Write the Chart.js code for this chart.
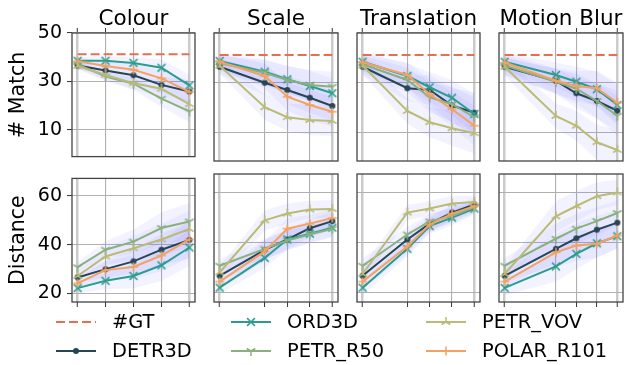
<!DOCTYPE html>
<html>
<head>
<meta charset="utf-8">
<script src="https://cdn.jsdelivr.net/npm/chart.js@4.4.1/dist/chart.umd.min.js"></script>
<style>
    body { margin: 0; width: 626px; height: 365px; position: relative; overflow: hidden; background: #fff; font-family: "DejaVu Sans", sans-serif; }
    canvas.panel { position: absolute; }
    .title { position: absolute; top: 6px; height: 24px; line-height: 24px; font-size: 21.5px; text-align: center; color: #000; white-space: nowrap; }
    .item { position: absolute; height: 24px; line-height: 24px; font-size: 19.4px; color: #000; white-space: nowrap; }
    .item canvas { position: absolute; left: 0; top: 2px; }
    .item span { position: absolute; left: 57px; top: 0; }
</style>
</head>
<body>
<script>
    'use strict';

    // ---- data ----
    const seriesNames = ['DETR3D', 'ORD3D', 'PETR_R50', 'PETR_VOV', 'POLAR_R101'];
    const gtName = '#GT';
    const gtCount = 41.2;

    const panelTitles = ['Colour', 'Scale', 'Translation', 'Motion Blur'];
    const colourLevels = [0, 1, 2, 3, 4];
    const scaleLevels = [0, 2, 3, 4, 5];
    const translationLevels = [0, 2, 3, 4, 5];
    const blurLevels = [0, 5, 7, 9, 11];

    const matchTicks = [10, 30, 50];
    const distTicks = [20, 40, 60];

    // rows follow seriesNames order
    const colourMatch = [
        [36.5, 34.5, 32.5, 28.5, 25.8],
        [38.5, 38.5, 37.6, 35.6, 28.3],
        [37.0, 32.0, 29.0, 22.8, 17.5],
        [36.3, 32.6, 29.2, 26.9, 20.5],
        [38.3, 36.3, 34.8, 31.2, 25.6]
    ];
    const scaleMatch = [
        [36.5, 30.1, 27.2, 24.1, 20.8],
        [38.8, 34.5, 31.5, 28.8, 25.9],
        [37.9, 34.1, 31.2, 29.2, 28.5],
        [36.9, 20.3, 16.3, 15.2, 14.8],
        [38.5, 32.8, 24.5, 21.2, 18.5]
    ];
    const translationMatch = [
        [36.5, 27.9, 27.2, 21.0, 18.1],
        [38.5, 32.8, 28.3, 24.1, 17.6],
        [37.5, 31.2, 24.3, 21.5, 16.3],
        [37.0, 18.8, 14.3, 11.9, 9.9],
        [38.3, 33.2, 25.5, 19.5, 12.9]
    ];
    const blurMatch = [
        [36.5, 30.8, 25.9, 22.8, 18.9],
        [38.5, 33.2, 30.5, 27.5, 21.2],
        [37.0, 30.5, 27.7, 22.8, 16.9],
        [36.5, 16.8, 12.9, 6.3, 3.2],
        [38.2, 30.9, 28.8, 27.9, 22.1]
    ];

    const colourDist = [
        [26.5, 29.9, 33.1, 37.9, 41.9],
        [22.1, 25.1, 27.1, 31.5, 38.8],
        [30.7, 37.9, 41.2, 46.8, 49.5],
        [27.1, 35.1, 38.5, 42.1, 46.4],
        [24.1, 29.5, 30.8, 35.5, 42.1]
    ];
    const scaleDist = [
        [26.8, 37.1, 41.2, 45.7, 48.5],
        [22.1, 33.9, 41.2, 43.5, 45.9],
        [30.8, 37.5, 40.8, 43.2, 45.5],
        [28.1, 48.8, 51.5, 53.1, 53.3],
        [24.5, 36.5, 45.5, 47.5, 49.7]
    ];
    const translationDist = [
        [26.8, 41.2, 47.5, 51.9, 55.1],
        [22.1, 37.5, 46.5, 49.9, 53.5],
        [30.8, 43.2, 48.4, 50.5, 54.1],
        [27.5, 51.9, 53.5, 55.5, 56.1],
        [24.5, 38.4, 47.1, 51.5, 54.4]
    ];
    const blurDist = [
        [26.8, 37.5, 41.7, 45.1, 47.9],
        [22.0, 30.5, 35.5, 39.7, 42.5],
        [30.8, 41.5, 45.5, 48.5, 51.7],
        [27.5, 50.4, 54.5, 58.4, 59.9],
        [24.5, 36.1, 38.8, 39.5, 42.8]
    ];

    // spread (half width of the shaded band) at each level
    const colourMatchSpread = [1.5, 2, 2.5, 3.5, 4.5];
    const scaleMatchSpread = [3, 5, 5.5, 6, 6];
    const translationMatchSpread = [3.5, 5, 6, 7, 8];
    const blurMatchSpread = [3.5, 5, 6, 7, 8];
    const colourDistSpread = [2, 3.5, 5, 6.5, 7.5];
    const scaleDistSpread = [2.5, 4, 4, 3.5, 3.5];
    const translationDistSpread = [3, 3, 3, 3, 2.5];
    const blurDistSpread = [3, 6, 6, 5.5, 5];

    // ---- styles ----
    const FONT = '"DejaVu Sans", sans-serif';
    const GRID = '#b0b0b0';
    const GRID_EDGE = '#cbcbcb';
    const BAND = 'rgba(100, 100, 255, 0.08)';
    const gtColor = '#e76f51';
    const seriesStyles = [
        { color: '#264653', marker: 'circle' },
        { color: '#2a9d8f', marker: 'x' },
        { color: '#8ab17d', marker: 'triDown' },
        { color: '#babb74', marker: 'triUp' },
        { color: '#f4a261', marker: 'plus' }
    ];

    const panelLefts = [72, 214, 357, 499];
    const panelWidths = [123, 124, 123, 124];
    const rowTops = [33, 174];
    const panelHeight = 128;

    /**
     * Build a small canvas used as a point style
     */
    function makeMarker(kind, color) {
        const c = document.createElement('canvas');
        c.width = 12;
        c.height = 12;
        const g = c.getContext('2d');
        const cx = 6, cy = 6;
        g.strokeStyle = color;
        g.fillStyle = color;
        g.lineWidth = 1.5;
        g.beginPath();
        if (kind === 'circle') {
            g.arc(cx, cy, 3, 0, Math.PI * 2);
            g.fill();
            return c;
        }
        let angles = [];
        let r = 5;
        if (kind === 'x') { angles = [45, 135, 225, 315]; r = 5.5; }
        if (kind === 'plus') { angles = [0, 90, 180, 270]; r = 4.5; }
        if (kind === 'triUp') angles = [-90, 30, 150];
        if (kind === 'triDown') angles = [90, 210, 330];
        angles.forEach(function(a) {
            const t = a * Math.PI / 180;
            g.moveTo(cx, cy);
            g.lineTo(cx + r * Math.cos(t), cy + r * Math.sin(t));
        });
        g.stroke();
        return c;
    }

    const markers = seriesStyles.map(function(s) { return makeMarker(s.marker, s.color); });

    const framePlugin = {
        id: 'frame',
        afterDraw(chart) {
            const a = chart.chartArea;
            const ctx = chart.ctx;
            ctx.save();
            ctx.strokeStyle = '#444';
            ctx.lineWidth = 1.3;
            ctx.strokeRect(a.left, a.top, a.right - a.left, a.bottom - a.top);
            ctx.restore();
        }
    };

    function points(levels, values) {
        return levels.map(function(x, i) { return { x: x, y: values[i] }; });
    }

    /**
     * Draw one small panel
     */
    function drawPanel(row, col, levels, values, spread) {
        const pad = 4;
        const yw = col === 0 ? 72 : 0;
        const xh = 5;
        const padTop = 12, padBottom = 12;
        const canvas = document.createElement('canvas');
        canvas.className = 'panel';
        canvas.width = yw + panelWidths[col] + pad * 2;
        canvas.height = padTop + padBottom + xh + panelHeight;
        canvas.style.left = (panelLefts[col] - yw - pad) + 'px';
        canvas.style.top = (rowTops[row] - padTop - (row === 0 ? xh : 0)) + 'px';
        document.body.appendChild(canvas);

        const datasets = [];
        values.forEach(function(vals) {
            datasets.push({
                data: points(levels, vals.map(function(v, k) { return v + spread[k]; })),
                borderWidth: 0, pointRadius: 0, fill: '+1', backgroundColor: BAND, order: 20
            });
            datasets.push({
                data: points(levels, vals.map(function(v, k) { return v - spread[k]; })),
                borderWidth: 0, pointRadius: 0, fill: false, order: 20
            });
        });
        values.forEach(function(vals, i) {
            datasets.push({
                label: seriesNames[i],
                data: points(levels, vals),
                borderColor: seriesStyles[i].color,
                backgroundColor: seriesStyles[i].color,
                borderWidth: 2,
                pointStyle: markers[i],
                fill: false,
                order: 10 - i
            });
        });
        if (row === 0) {
            datasets.push({
                label: gtName,
                data: points(levels, levels.map(function() { return gtCount; })),
                borderColor: gtColor,
                borderWidth: 2,
                borderDash: [9, 4],
                pointRadius: 0,
                fill: false,
                order: 0
            });
        }

        const last = levels.length - 1;
        const span = levels[last] - levels[0];
        const isEdge = function(ctx) { return ctx.index === 0 || ctx.index === last; };
        new Chart(canvas.getContext('2d'), {
            type: 'line',
            data: { datasets: datasets },
            plugins: [framePlugin],
            options: {
                responsive: false,
                animation: false,
                events: [],
                layout: { autoPadding: false, padding: { left: pad, right: pad, top: padTop, bottom: padBottom } },
                plugins: { legend: { display: false }, tooltip: { enabled: false } },
                scales: {
                    x: {
                        type: 'linear',
                        position: row === 0 ? 'top' : 'bottom',
                        min: levels[0] - 0.05 * span,
                        max: levels[last] + 0.05 * span,
                        afterBuildTicks: function(s) { s.ticks = levels.map(function(v) { return { value: v }; }); },
                        afterFit: function(s) { s.height = xh; },
                        ticks: { display: false },
                        grid: {
                            color: function(ctx) { return isEdge(ctx) ? GRID_EDGE : GRID; },
                            lineWidth: function(ctx) { return isEdge(ctx) ? 2.5 : 1.1; },
                            tickLength: 5,
                            tickColor: '#333',
                            tickWidth: 1
                        },
                        border: { display: false }
                    },
                    y: {
                        min: row === 0 ? -1.2 : 16.4,
                        max: row === 0 ? 50 : 67.2,
                        afterBuildTicks: function(s) {
                            s.ticks = (row === 0 ? matchTicks : distTicks).map(function(v) { return { value: v }; });
                        },
                        afterFit: function(s) { s.width = yw; },
                        ticks: { display: col === 0, color: '#000', padding: 5, font: { family: FONT, size: 19 } },
                        grid: { color: GRID, lineWidth: 1.1, drawTicks: col === 0, tickLength: 5, tickColor: '#333', tickWidth: 1 },
                        title: {
                            display: col === 0,
                            text: row === 0 ? '# Match' : 'Distance',
                            color: '#000',
                            padding: { top: 6, bottom: 0 },
                            font: { family: FONT, size: 20.5 }
                        },
                        border: { display: false }
                    }
                }
            }
        });
    }

    const allLevels = [colourLevels, scaleLevels, translationLevels, blurLevels];
    const allMatch = [colourMatch, scaleMatch, translationMatch, blurMatch];
    const allDist = [colourDist, scaleDist, translationDist, blurDist];
    const allMatchSpread = [colourMatchSpread, scaleMatchSpread, translationMatchSpread, blurMatchSpread];
    const allDistSpread = [colourDistSpread, scaleDistSpread, translationDistSpread, blurDistSpread];

    for (let c = 0; c < 4; c++) {
        drawPanel(0, c, allLevels[c], allMatch[c], allMatchSpread[c]);
        drawPanel(1, c, allLevels[c], allDist[c], allDistSpread[c]);

        const t = document.createElement('div');
        t.className = 'title';
        t.textContent = panelTitles[c];
        t.style.left = (panelLefts[c] - 20) + 'px';
        t.style.width = (panelWidths[c] + 40) + 'px';
        document.body.appendChild(t);
    }

    // ---- legend ----
    function legendItem(label, style, left, top) {
        const d = document.createElement('div');
        d.className = 'item';
        d.style.left = left + 'px';
        d.style.top = top + 'px';
        const c = document.createElement('canvas');
        c.width = 42;
        c.height = 20;
        const g = c.getContext('2d');
        g.strokeStyle = style.color;
        g.lineWidth = 2;
        if (style.dash) g.setLineDash([9, 4]);
        g.beginPath();
        g.moveTo(1, 10);
        g.lineTo(41, 10);
        g.stroke();
        if (style.marker) g.drawImage(style.marker, 21 - 6, 10 - 6);
        const s = document.createElement('span');
        s.textContent = label;
        d.appendChild(c);
        d.appendChild(s);
        document.body.appendChild(d);
    }

    const legendCols = [55, 230, 425];
    const legendRows = [310, 339];
    legendItem(gtName, { color: gtColor, dash: true }, legendCols[0], legendRows[0]);
    legendItem(seriesNames[0], { color: seriesStyles[0].color, marker: markers[0] }, legendCols[0], legendRows[1]);
    legendItem(seriesNames[1], { color: seriesStyles[1].color, marker: markers[1] }, legendCols[1], legendRows[0]);
    legendItem(seriesNames[2], { color: seriesStyles[2].color, marker: markers[2] }, legendCols[1], legendRows[1]);
    legendItem(seriesNames[3], { color: seriesStyles[3].color, marker: markers[3] }, legendCols[2], legendRows[0]);
    legendItem(seriesNames[4], { color: seriesStyles[4].color, marker: markers[4] }, legendCols[2], legendRows[1]);
</script>
</body>
</html>
